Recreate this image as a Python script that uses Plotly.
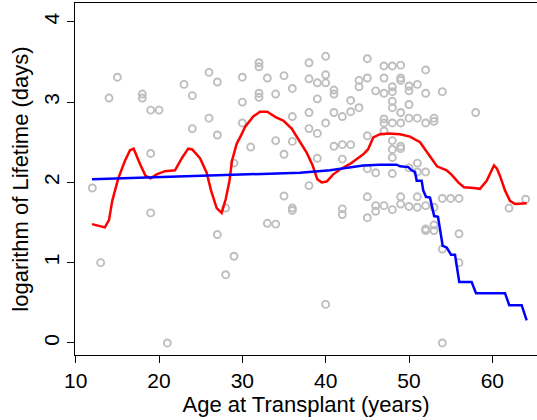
import plotly.graph_objects as go

# Scatter data: age at transplant (years) and log10 lifetime (days)
age = [12, 13, 14, 15, 18, 18, 19, 19, 19, 20, 21, 23, 24, 24, 26, 26,
       27, 27, 27, 28, 28, 29, 29, 30, 30, 30, 31, 32, 32, 32, 32, 33, 33,
       34, 34, 34, 35, 35, 35, 36, 36, 36, 36, 36, 38, 38, 38, 38, 38,
       39, 39, 39, 39, 40, 40, 40, 40, 40, 41, 41, 41, 41,
       42, 42, 42, 42, 42, 43, 43, 43, 44, 44, 44,
       45, 45, 45, 45, 45, 45, 46, 46, 46, 46,
       47, 47, 47, 47, 47, 47, 47,
       48, 48, 48, 48, 48, 48, 48, 48, 48, 48, 48,
       49, 49, 49, 49, 49, 49, 49, 49, 49,
       50, 50, 50, 50, 50, 50, 51, 51, 51, 51, 51, 51,
       52, 52, 52, 52, 52, 52, 52, 53, 53, 53, 53, 53,
       54, 54, 54, 54, 55, 56, 56, 56, 58, 62, 64]
log_life = [1.93, 1.00, 3.05, 3.31, 3.10, 3.05, 2.90, 2.36, 1.62, 2.90, 0.00, 3.22, 3.08, 2.67, 3.37, 2.80,
            3.25, 2.59, 1.35, 1.68, 0.85, 2.24, 1.08, 3.31, 3.00, 2.74, 2.44, 3.49, 3.44, 3.11, 3.06, 3.30, 1.49,
            3.10, 2.52, 1.48, 3.33, 2.35, 1.83, 3.17, 2.82, 2.51, 1.68, 1.65, 3.49, 3.29, 2.87, 2.67, 1.96,
            3.24, 3.04, 2.61, 2.30, 3.57, 3.34, 3.24, 2.74, 0.48, 3.15, 3.10, 2.87, 2.45,
            2.82, 2.47, 2.29, 1.67, 1.60, 3.02, 2.88, 2.47, 3.27, 3.19, 2.93,
            3.54, 3.30, 2.58, 2.17, 1.82, 1.56, 3.14, 2.12, 1.71, 1.64,
            3.45, 3.30, 3.11, 2.79, 2.74, 2.64, 1.71,
            3.45, 3.19, 3.13, 3.01, 2.93, 2.74, 2.52, 2.41, 2.31, 2.11, 1.66,
            3.46, 3.30, 3.27, 2.87, 2.74, 2.45, 2.42, 1.82, 1.73,
            3.20, 3.14, 2.97, 2.80, 2.18, 1.70, 3.22, 2.80, 2.24, 2.13, 1.82, 1.69,
            3.40, 3.11, 2.74, 2.13, 1.71, 1.42, 1.40, 2.80, 2.76, 1.69, 1.47, 1.40,
            3.13, 1.80, 1.17, 0.00, 1.80, 1.80, 1.36, 1.00, 2.87, 1.68, 1.79]

# Red smooth curve
red_age = [11.96, 13.5, 14.0, 14.39, 15.11, 15.92, 16.52, 16.96, 17.72, 18.40, 19.0, 19.72,
           20.72, 21.92, 22.79, 23.51, 23.99, 24.92, 25.72, 26.24, 26.92, 27.52, 28.0, 28.46,
           28.76, 29.32, 29.92, 30.32, 31.31, 32.12, 32.6, 32.99, 34.04, 34.91, 35.92, 36.71,
           37.72, 38.44, 38.99, 39.52, 40.12, 40.91, 41.72, 42.92, 44.51, 45.08, 45.71, 46.52,
           47.6, 48.92, 50.12, 51.32, 52.52, 53.36, 54.52, 55.16, 55.91, 56.6, 57.8, 58.52,
           59.32, 59.92, 60.2, 60.56, 60.92, 61.52, 62.12, 62.72, 64.12]
red_val = [1.48, 1.44, 1.53, 1.77, 2.05, 2.27, 2.40, 2.42, 2.23, 2.08, 2.05, 2.10,
           2.14, 2.15, 2.31, 2.42, 2.41, 2.30, 2.12, 1.90, 1.68, 1.62, 1.79, 2.02,
           2.27, 2.48, 2.60, 2.69, 2.82, 2.88, 2.88, 2.88, 2.81, 2.77, 2.67, 2.54,
           2.37, 2.21, 2.04, 2.00, 2.01, 2.10, 2.16, 2.23, 2.35, 2.41, 2.56, 2.60,
           2.61, 2.60, 2.57, 2.50, 2.33, 2.20, 2.15, 2.09, 2.00, 1.94, 1.93, 1.92,
           2.02, 2.15, 2.21, 2.17, 2.08, 1.90, 1.77, 1.73, 1.74]

# Blue curve
blue_age = [11.96, 36.92, 40.52, 42.92, 44.51, 46.52, 48.52, 48.92, 49.91, 50.32, 50.72, 50.92,
            51.52, 51.71, 52.04, 52.52, 53.02, 53.48, 54.04, 54.52, 55.04, 55.52, 56.03, 57.52,
            58.04, 61.52, 62.03, 63.52, 64.12]
blue_val = [2.04, 2.12, 2.15, 2.19, 2.21, 2.22, 2.22, 2.20, 2.19, 2.15, 2.13, 2.02,
            2.02, 1.90, 1.82, 1.81, 1.58, 1.57, 1.21, 1.19, 1.10, 1.10, 0.76, 0.76,
            0.62, 0.62, 0.47, 0.47, 0.28]

x_ticks = [10, 20, 30, 40, 50, 60]
y_ticks = [0, 1, 2, 3, 4]

fig = go.Figure()
fig.add_trace(go.Scatter(x=age, y=log_life, mode="markers",
                         marker=dict(symbol="circle-open", size=7, color="#bebebe",
                                     line=dict(width=1.9)),
                         showlegend=False, cliponaxis=False))
fig.add_trace(go.Scatter(x=red_age, y=red_val, mode="lines",
                         line=dict(color="#ff0000", width=2.5), showlegend=False))
fig.add_trace(go.Scatter(x=blue_age, y=blue_val, mode="lines",
                         line=dict(color="#0000ff", width=2.5), showlegend=False))

font_family = "Liberation Sans, Arial, sans-serif"
fig.update_layout(
    width=537, height=420,
    margin=dict(l=75, r=0, t=3, b=65, autoexpand=False),
    paper_bgcolor="white", plot_bgcolor="white",
    font=dict(family=font_family, color="black", size=20),
    xaxis=dict(range=[9.92, 65.36], tickvals=x_ticks, ticks="outside", ticklen=7,
               tickwidth=1, tickcolor="black", showline=True, linecolor="black",
               linewidth=1.2, mirror=True, showgrid=False, zeroline=False,
               automargin=False, tickfont=dict(size=21),
               title=dict(text="Age at Transplant (years)", font=dict(size=22), standoff=3)),
    yaxis=dict(range=[-0.15, 4.234], tickvals=y_ticks, ticks="outside", ticklen=7,
               tickwidth=1, tickcolor="black", showline=True, linecolor="black",
               linewidth=1.2, mirror=False, showgrid=False, zeroline=False,
               automargin=False, tickangle=-90, tickfont=dict(size=21),
               title=dict(text="logarithm of Lifetime (days)", font=dict(size=22), standoff=4)),
)

fig.write_html("out.html", config={"displayModeBar": False},
               post_script="document.body.style.margin='0';document.body.style.overflow='hidden';")
